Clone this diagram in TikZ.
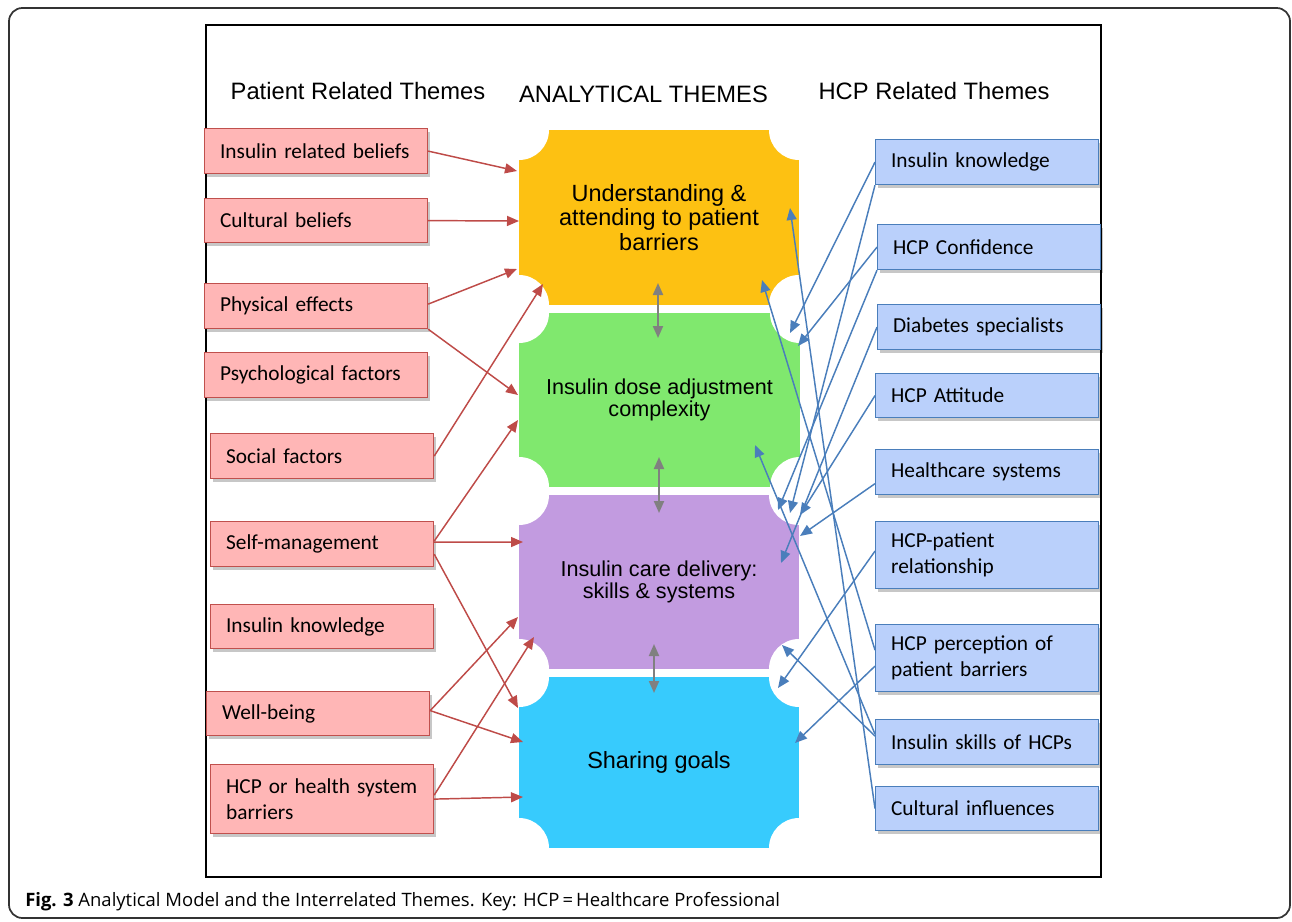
\documentclass[tikz,border=0pt]{standalone}
\usepackage{fontspec}
\setmainfont{Liberation Sans}
\newfontfamily\boxfont{Carlito}
\newfontfamily\capfont{Open Sans}
\usetikzlibrary{arrows.meta,shadows,calc}
\definecolor{pinkfill}{HTML}{FFB6B6}
\definecolor{pinkline}{HTML}{C0504D}
\definecolor{bluefill}{HTML}{BAD0FB}
\definecolor{blueline}{HTML}{4A7EBB}
\definecolor{tyellow}{HTML}{FDC112}
\definecolor{tgreen}{HTML}{80E86E}
\definecolor{tpurple}{HTML}{C29BE0}
\definecolor{tcyan}{HTML}{37CBFD}
\definecolor{redarrow}{HTML}{BE4B48}
\definecolor{bluearrow}{HTML}{4A7EBB}
\definecolor{grayarrow}{HTML}{808080}
\definecolor{framegray}{HTML}{333333}
\newcommand{\ticketrect}[5]{\fill[#5] (#1,#2) rectangle (#3,#4);}
\newcommand{\ticketnotch}[4]{%
  \fill[white] (#1,#2) circle[radius=22.5pt] (#3,#2) circle[radius=22.5pt]
      (#1,#4) circle[radius=22.5pt] (#3,#4) circle[radius=22.5pt];}
\begin{document}
\begin{tikzpicture}[x=0.75pt,y=-0.75pt,
  themebox/.style={anchor=north west, minimum width=167.25pt, minimum height=33.75pt,
    text width=144pt, inner xsep=11.6pt, inner ysep=0pt, align=left,
    font=\boxfont\fontsize{16}{19.5}\selectfont, line width=0.9pt,
    drop shadow={shadow xshift=1.5pt, shadow yshift=-2.2pt, opacity=0.22, fill=black}},
  leftbox/.style={themebox, draw=pinkline, fill=pinkfill},
  rightbox/.style={themebox, draw=blueline, fill=bluefill},
  header/.style={font=\fontsize{17.8}{20}\selectfont, inner sep=0pt},
  tickettext/.style={font=\fontsize{17.6}{18.4}\selectfont, align=center, inner sep=0pt},
  tickettextsmall/.style={font=\fontsize{16.2}{17}\selectfont, align=center, inner sep=0pt},
  redarr/.style={draw=redarrow, line width=1.1pt, -{Triangle[length=9pt,width=7.5pt]}, fill=redarrow},
  bluearr/.style={draw=bluearrow, line width=1.1pt, -{Triangle[length=9pt,width=7.5pt]}, fill=bluearrow},
  grayarr/.style={draw=grayarrow, line width=1.5pt, {Triangle[length=9pt,width=7.5pt]}-{Triangle[length=9pt,width=7.5pt]}}
]
\useasboundingbox (0,0) rectangle (1292,921);
% outer frame
\draw[framegray, line width=1.3pt, rounded corners=10pt] (9,8) rectangle (1290,918);

% ticket shapes
\ticketrect{519}{130}{799}{305}{tyellow}
\ticketrect{519}{313}{800}{487}{tgreen}
\ticketrect{519}{495}{799}{669}{tpurple}
\ticketrect{519}{677}{799}{848}{tcyan}
\ticketnotch{519}{130}{799}{305}
\ticketnotch{519}{313}{800}{487}
\ticketnotch{519}{495}{799}{669}
\ticketnotch{519}{677}{799}{848}

% inner frame
\draw[black, line width=0.8pt] (206,25) rectangle (1101,877);

\node[tickettext] (und) at (659,217.5) {Understanding \&\\attending to patient\\barriers};
\node[tickettextsmall] (dose) at (659.5,400) {Insulin dose adjustment\\complexity};
\node[tickettextsmall] (care) at (659,582) {Insulin care delivery:\\skills \& systems};
\node[tickettext] (goals) at (659,762.5) {Sharing goals};

% headers
\node[header] (hl) at (358,91) {Patient Related Themes};
\node[header] (hc0) at (643.5,94) {ANALYTICAL THEMES};
\node[header] (hr) at (934,91) {HCP Related Themes};

% left boxes
\node[leftbox] (irb) at (204,128) {Insulin related beliefs};
\node[leftbox, minimum height=33pt] (cb) at (204,198) {Cultural beliefs};
\node[leftbox] (pe) at (204,283) {Physical effects};
\node[leftbox] (pf) at (204,352) {Psychological factors};
\node[leftbox] (sf) at (210,433) {Social factors};
\node[leftbox] (sm) at (210,521) {Self-management};
\node[leftbox, minimum height=33pt] (ikl) at (210,604) {Insulin knowledge};
\node[leftbox, minimum height=33pt] (wb) at (206,691) {Well-being};
\node[leftbox, minimum height=51.75pt] (hcpb) at (210,764) {HCP or health system\\barriers};

% right boxes
\node[rightbox] (ik) at (875,139) {Insulin knowledge};
\node[rightbox] (hc) at (877,224) {HCP Confidence};
\node[rightbox] (ds) at (877,304) {Diabetes specialists};
\node[rightbox, minimum height=33pt] (ha) at (875,373) {HCP Attitude};
\node[rightbox] (hs) at (875,449) {Healthcare systems};
\node[rightbox, minimum height=50.25pt] (hpr) at (875,521) {HCP-patient\\relationship};
\node[rightbox, minimum height=50.25pt] (hppb) at (875,624) {HCP perception of\\patient barriers};
\node[rightbox] (ish) at (875,719) {Insulin skills of HCPs};
\node[rightbox, minimum height=33pt] (ci) at (875,786) {Cultural influences};

% gray arrows between analytical themes
\coordinate (g1a) at (658,283); \coordinate (g1b) at (658,338);
\coordinate (g2a) at (659,457); \coordinate (g2b) at (659,513);
\coordinate (g3a) at (654,644); \coordinate (g3b) at (654,693);
\draw[grayarr] (g1a) -- (g1b);
\draw[grayarr] (g2a) -- (g2b);
\draw[grayarr] (g3a) -- (g3b);

% red arrow targets
\coordinate (r1) at (517,171);
\coordinate (r2) at (519,221);
\coordinate (r3) at (517,269);
\coordinate (r4) at (518,395);
\coordinate (r5) at (543,284);
\coordinate (r6) at (518,420);
\coordinate (r7) at (523,542);
\coordinate (r8) at (518,708);
\coordinate (r9) at (518,617);
\coordinate (r10) at (523,742);
\coordinate (r11) at (534,637);
\coordinate (r12) at (523,797);
\draw[redarr] (irb.east) -- (r1);
\draw[redarr] (cb.east) -- (r2);
\draw[redarr] ($(pe.east)+(0,-2)$) -- (r3);
\draw[redarr] (pe.south east) -- (r4);
\draw[redarr] (sf.east) -- (r5);
\draw[redarr] ($(sm.east)+(0,-3)$) -- (r6);
\draw[redarr] ($(sm.east)+(0,-2)$) -- (r7);
\draw[redarr] ($(sm.east)+(0,10)$) -- (r8);
\draw[redarr] ($(wb.east)+(0,-3)$) -- (r9);
\draw[redarr] ($(wb.east)+(0,-3)$) -- (r10);
\draw[redarr] ($(hcpb.east)+(0,-4)$) -- (r11);
\draw[redarr] (hcpb.east) -- (r12);

% blue arrow targets
\coordinate (b1) at (790,333);
\coordinate (b2) at (790,513);
\coordinate (b3) at (798,346);
\coordinate (b4) at (778,510);
\coordinate (b5) at (781,563);
\coordinate (b6) at (800,515);
\coordinate (b7) at (800,536);
\coordinate (b8) at (778,688);
\coordinate (b9) at (762,280);
\coordinate (b10) at (795,743);
\coordinate (b11) at (755,445);
\coordinate (b12) at (782,645);
\coordinate (b13) at (790,208);
\draw[bluearr] (ik.west) -- (b1);
\draw[bluearr] (ik.south west) -- (b2);
\draw[bluearr] (hc.west) -- (b3);
\draw[bluearr] (hc.south west) -- (b4);
\draw[bluearr] (ds.west) -- (b5);
\draw[bluearr] (ha.west) -- (b6);
\draw[bluearr] ($(hs.west)!0.5!(hs.south west)$) -- (b7);
\draw[bluearr] ($(hpr.west)+(0,-4)$) -- (b8);
\draw[bluearr] ($(hppb.west)+(0,-8)$) -- (b9);
\draw[bluearr] ($(hppb.west)+(0,8)$) -- (b10);
\draw[bluearr] ($(ish.west)+(0,-8)$) -- (b11);
\draw[bluearr] ($(ish.west)+(0,-6)$) -- (b12);
\draw[bluearr] (ci.west) -- (b13);

% caption
\node[anchor=west, inner sep=0pt, font=\capfont\fontsize{13.85}{16}\selectfont] (cap) at (25,902)
  {\textbf{Fig. 3} Analytical Model and the Interrelated Themes. Key: HCP\,=\,Healthcare Professional};
\end{tikzpicture}
\end{document}
